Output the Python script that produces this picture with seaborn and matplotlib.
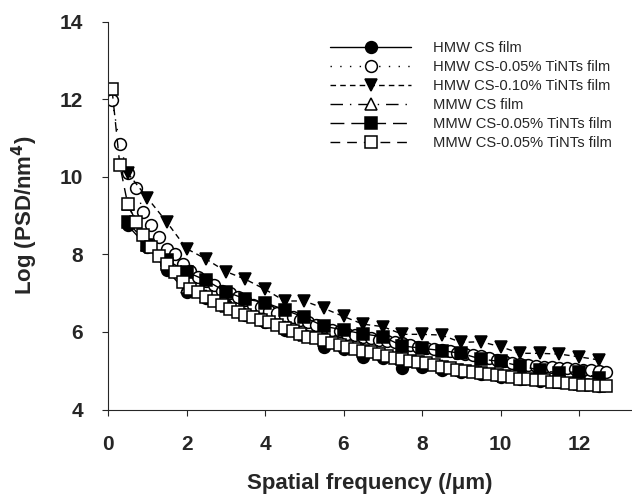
"""
PSD curves of CS / TiNTs films
"""

import matplotlib.pyplot as plt
import pandas as pd
import seaborn as sns

# filled symbols, every 0.5 /um
FREQ_HALF = [0.5, 1.0, 1.5, 2.0, 2.5, 3.0, 3.5, 4.0, 4.5, 5.0, 5.5, 6.0, 6.5,
             7.0, 7.5, 8.0, 8.5, 9.0, 9.5, 10.0, 10.5, 11.0, 11.5, 12.0, 12.5]
HMW_CS = [8.75, 8.2, 7.6, 7.02, 6.88, 6.7, 6.45, 6.25, 6.05, 5.92, 5.62, 5.56, 5.35,
          5.34, 5.08, 5.1, 5.02, 4.96, 4.92, 4.84, 4.8, 4.73, 4.7, 4.66, 4.6]
HMW_010 = [10.1, 9.46, 8.83, 8.15, 7.88, 7.56, 7.36, 7.1, 6.8, 6.8, 6.61, 6.4, 6.2,
           6.14, 5.94, 5.94, 5.92, 5.73, 5.75, 5.62, 5.45, 5.45, 5.43, 5.36, 5.28]
MMW_CS = [9.3, 8.25, 7.78, 7.15, 6.92, 6.68, 6.47, 6.3, 6.12, 5.93, 5.82, 5.67, 5.54,
          5.42, 5.32, 5.22, 5.12, 5.02, 4.96, 4.89, 4.82, 4.78, 4.72, 4.65, 4.62]
MMW_005 = [8.85, 8.25, 7.86, 7.55, 7.33, 7.04, 6.85, 6.76, 6.57, 6.38, 6.15, 6.05, 5.95,
           5.88, 5.64, 5.58, 5.52, 5.45, 5.3, 5.24, 5.12, 5.02, 4.94, 4.98, 4.81]

# open symbols, dense sampling
FREQ_FINE = [0.1, 0.3, 0.5, 0.7, 0.9, 1.1, 1.3, 1.5, 1.7, 1.9, 2.1, 2.3, 2.5, 2.7,
             2.9, 3.1, 3.3, 3.5, 3.7, 3.9, 4.1, 4.3, 4.5, 4.7, 4.9, 5.1, 5.3, 5.5,
             5.7, 5.9, 6.1, 6.3, 6.5, 6.7, 6.9, 7.1, 7.3, 7.5, 7.7, 7.9, 8.1, 8.3,
             8.5, 8.7, 8.9, 9.1, 9.3, 9.5, 9.7, 9.9, 10.1, 10.3, 10.5, 10.7, 10.9,
             11.1, 11.3, 11.5, 11.7, 11.9, 12.1, 12.3, 12.5, 12.7]
HMW_005 = [11.98, 10.85, 10.1, 9.72, 9.1, 8.75, 8.45, 8.15, 8.02, 7.75, 7.58, 7.42,
           7.32, 7.2, 7.06, 7.0, 6.9, 6.82, 6.7, 6.64, 6.55, 6.5, 6.42, 6.38, 6.3,
           6.26, 6.18, 6.14, 6.06, 6.02, 5.96, 5.92, 5.87, 5.84, 5.8, 5.77, 5.74,
           5.72, 5.66, 5.62, 5.6, 5.57, 5.53, 5.5, 5.47, 5.43, 5.41, 5.38, 5.33,
           5.28, 5.24, 5.2, 5.18, 5.15, 5.12, 5.1, 5.09, 5.07, 5.06, 5.04, 5.03,
           5.01, 5.0, 4.97]
MMW_005B = [12.27, 10.3, 9.3, 8.85, 8.5, 8.2, 7.95, 7.75, 7.55, 7.3, 7.1, 7.02,
            6.9, 6.8, 6.7, 6.6, 6.52, 6.45, 6.38, 6.3, 6.26, 6.18, 6.1, 6.02, 5.94,
            5.88, 5.84, 5.8, 5.72, 5.66, 5.62, 5.57, 5.52, 5.48, 5.42, 5.38, 5.34,
            5.3, 5.26, 5.22, 5.2, 5.15, 5.1, 5.06, 5.02, 5.0, 4.96, 4.94, 4.91,
            4.88, 4.86, 4.83, 4.8, 4.79, 4.77, 4.75, 4.72, 4.7, 4.68, 4.65, 4.63,
            4.62, 4.61, 4.6]

LABELS = ["HMW CS film", "HMW CS-0.05% TiNTs film", "HMW CS-0.10% TiNTs film",
          "MMW CS film", "MMW CS-0.05% TiNTs film", "MMW CS-0.05% TiNTs film"]


def main():
    series = [
        (FREQ_HALF, HMW_CS, dict(marker="o", mfc="black", ls="-", ms=8.5)),
        (FREQ_FINE, HMW_005, dict(marker="o", mfc="white", ls=(0, (1, 6)), ms=8.5)),
        (FREQ_HALF, HMW_010, dict(marker="v", mfc="black", ls=(0, (4, 3)), ms=9)),
        (FREQ_HALF, MMW_CS, dict(marker="^", mfc="white", ls=(0, (9, 5, 1, 5)), ms=8)),
        (FREQ_HALF, MMW_005, dict(marker="s", mfc="black", ls=(0, (10, 5)), ms=8)),
        (FREQ_FINE, MMW_005B, dict(marker="s", mfc="white", ls=(0, (7, 5)), ms=8)),
    ]

    sns.set_style("ticks")
    plt.rcParams["font.family"] = ["Liberation Sans", "DejaVu Sans"]
    fig, ax = plt.subplots(figsize=(6.32, 4.97), dpi=100)
    fig.subplots_adjust(left=0.171, right=1.0, top=0.956, bottom=0.176)

    for (x, y, kw), label in zip(series, LABELS):
        df = pd.DataFrame({"freq": x, "psd": y})
        sns.lineplot(data=df, x="freq", y="psd", ax=ax, color="black", lw=1.0,
                     mec="black", mew=1.1, label=label, sort=False, **kw)

    ax.set_xlim(0, 13.35)
    ax.set_ylim(4, 14)
    ax.set_xticks(range(0, 13, 2))
    ax.set_yticks(range(4, 15, 2))
    ax.tick_params(direction="out", length=4, width=0.8, labelsize=15, pad=14)
    for lab in ax.get_xticklabels() + ax.get_yticklabels():
        lab.set_fontweight("bold")
    sns.despine(ax=ax)
    ax.spines["left"].set_linewidth(0.8)
    ax.spines["bottom"].set_linewidth(0.8)

    ax.set_xlabel("Spatial frequency (/\u03bcm)", fontsize=16, fontweight="bold",
                  labelpad=14)
    ax.set_ylabel("Log (PSD/nm$^\\mathbf{4}$)", fontsize=16, fontweight="bold",
                  labelpad=14)

    ax.legend(loc="upper left", bbox_to_anchor=(323 / 632, 1 - 34 / 497),
              bbox_transform=fig.transFigure, frameon=False, fontsize=10.6,
              handlelength=5.5, handletextpad=1.45, labelspacing=0.33,
              borderpad=0, numpoints=1)

    fig.savefig("out.png", dpi=100)


if __name__ == "__main__":
    main()
